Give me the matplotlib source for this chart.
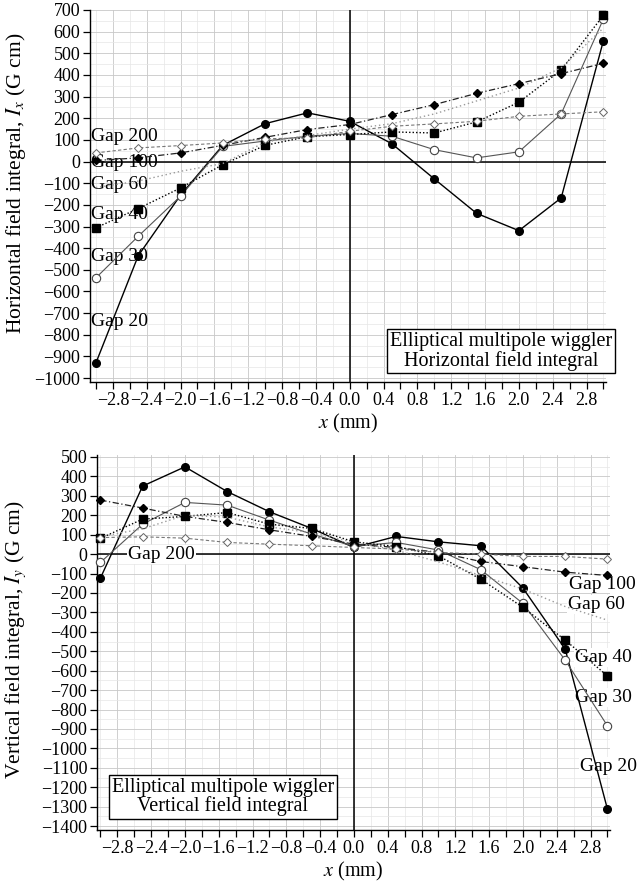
import matplotlib
matplotlib.use("Agg")
import matplotlib.pyplot as plt
from matplotlib.ticker import MultipleLocator, FuncFormatter

plt.rcParams['font.family'] = ['Liberation Serif', 'DejaVu Serif']
plt.rcParams['mathtext.fontset'] = 'stix'

# x positions of the measurements (mm)
x_pos = [-3.0, -2.5, -2.0, -1.5, -1.0, -0.5, 0.0, 0.5, 1.0, 1.5, 2.0, 2.5, 3.0]

# horizontal field integral Ix (G cm)
ix_gap20 = [-930, -435, -155, 75, 175, 225, 186, 82, -80, -239, -319, -168, 559]
ix_gap30 = [-537, -345, -160, 70, 95, 117, 130, 117, 55, 17, 45, 220, 659]
ix_gap40 = [-306, -217, -122, -14, 75, 115, 125, 137, 132, 183, 274, 422, 676]
ix_gap60 = [-120, -90, -45, -9, 90, 120, 150, 175, 220, 280, 340, 433, 617]
ix_gap100 = [5, 17, 40, 75, 112, 148, 171, 217, 263, 315, 360, 406, 454]
ix_gap200 = [40, 63, 74, 86, 105, 110, 140, 163, 174, 186, 209, 220, 230]

# vertical field integral Iy (G cm)
iy_gap20 = [-124, 350, 449, 322, 218, 132, 34, 91, 63, 43, -175, -489, -1313]
iy_gap30 = [-43, 154, 266, 252, 175, 103, 40, 60, 21, -80, -254, -546, -884]
iy_gap40 = [81, 180, 194, 214, 154, 132, 63, 39, -9, -129, -274, -443, -627]
iy_gap60 = [90, 130, 200, 190, 140, 110, 60, 20, -40, -110, -180, -270, -340]
iy_gap100 = [278, 237, 194, 163, 125, 91, 51, 34, 9, -38, -65, -93, -110]
iy_gap200 = [85, 89, 82, 60, 51, 43, 34, 26, 9, 0, -12, -12, -26]

gap_names = ["Gap 20", "Gap 30", "Gap 40", "Gap 60", "Gap 100", "Gap 200"]

styles = {
    "Gap 20": dict(color="black", ls="-", lw=1.0, marker="o", ms=5.5, mfc="black", mec="black"),
    "Gap 30": dict(color="#555555", ls="-", lw=0.8, marker="o", ms=6, mfc="white", mec="#444444", mew=0.8),
    "Gap 40": dict(color="black", ls=(0, (1, 1.5)), lw=1.0, marker="s", ms=5.5, mfc="black", mec="black"),
    "Gap 60": dict(color="#9a9a9a", ls=(0, (1, 2)), lw=1.0, marker=None),
    "Gap 100": dict(color="#222222", ls=(0, (5, 2, 1, 2)), lw=0.9, marker="D", ms=4, mfc="black", mec="black"),
    "Gap 200": dict(color="#777777", ls=(0, (3, 2)), lw=0.8, marker="D", ms=4, mfc="white", mec="#666666", mew=0.7),
}


def fmt_minus(v, pos, nd):
    s = f"{v:.{nd}f}"
    if s.startswith("-"):
        s = "\u2212" + s[1:]
    if s in ("\u22120", "\u22120.0"):
        s = s[1:]
    return s


def style_axes(ax, ylo, yhi, xlo, xhi):
    ax.set_xlim(xlo, xhi)
    ax.set_ylim(ylo, yhi)
    for side in ("top", "right"):
        ax.spines[side].set_visible(False)
    ax.spines["left"].set_linewidth(1.0)
    ax.spines["bottom"].set_linewidth(1.0)
    ax.xaxis.set_major_locator(MultipleLocator(0.4))
    ax.xaxis.set_minor_locator(MultipleLocator(0.2))
    ax.yaxis.set_major_locator(MultipleLocator(100))
    ax.yaxis.set_minor_locator(MultipleLocator(50))
    ax.xaxis.set_major_formatter(FuncFormatter(lambda v, p: fmt_minus(v, p, 1)))
    ax.yaxis.set_major_formatter(FuncFormatter(lambda v, p: fmt_minus(v, p, 0)))
    ax.tick_params(which="both", direction="out", length=5, width=0.9, labelsize=13, pad=2)
    ax.tick_params(axis="y", which="minor", length=0)
    ax.grid(which="major", color="#c8c8c8", lw=0.6)
    ax.grid(which="minor", color="#e6e6e6", lw=0.5)
    ax.set_axisbelow(True)
    ax.axhline(0, color="black", lw=1.1, zorder=1.5)
    ax.axvline(0, color="black", lw=1.1, zorder=1.5)


fig = plt.figure(figsize=(6.4, 8.9), dpi=100)
W, H = 640.0, 890.0

# ---- top panel: horizontal field integral
ax1 = fig.add_axes([90 / W, 1 - 382 / H, 516 / W, 372 / H])
style_axes(ax1, -1018, 700, -3.07, 3.03)
top_data = [ix_gap20, ix_gap30, ix_gap40, ix_gap60, ix_gap100, ix_gap200]
for name, vals in zip(gap_names, top_data):
    ax1.plot(x_pos, vals, zorder=3, clip_on=False, **styles[name])

top_labels = {"Gap 200": 115, "Gap 100": -5, "Gap 60": -106,
              "Gap 40": -245, "Gap 30": -439, "Gap 20": -739}
for name, yv in top_labels.items():
    ax1.text(-3.06, yv, name, fontsize=14, ha="left", va="center", zorder=2)

ax1.text(0.796, 0.083, "Elliptical multipole wiggler\nHorizontal field integral",
         transform=ax1.transAxes, ha="center", va="center", fontsize=14.5,
         linespacing=1.0, zorder=4,
         bbox=dict(boxstyle="square,pad=0.14", fc="white", ec="black", lw=1.0))
ax1.set_ylabel("Horizontal field integral, $I_x$ (G cm)", fontsize=15.5)
ax1.yaxis.set_label_coords(-0.12, 0.535)
ax1.set_xlabel("$x$ (mm)", fontsize=14.5, labelpad=2)

# ---- bottom panel: vertical field integral
ax2 = fig.add_axes([97 / W, 1 - 830 / H, 513 / W, 375 / H])
style_axes(ax2, -1420, 510, -3.04, 3.03)
bot_data = [iy_gap20, iy_gap30, iy_gap40, iy_gap60, iy_gap100, iy_gap200]
for name, vals in zip(gap_names, bot_data):
    ax2.plot(x_pos, vals, zorder=3, clip_on=False, **styles[name])

ax2.text(-2.67, 0, "Gap 200", fontsize=14, ha="left", va="center", zorder=2.5,
         bbox=dict(boxstyle="square,pad=0.05", fc="white", ec="none"))
bot_labels = {"Gap 100": (2.55, -154), "Gap 60": (2.53, -257), "Gap 40": (2.61, -530),
              "Gap 30": (2.61, -736), "Gap 20": (2.68, -1092)}
for name, (xv, yv) in bot_labels.items():
    ax2.text(xv, yv, name, fontsize=14, ha="left", va="center", zorder=2.5,
             clip_on=False, bbox=dict(boxstyle="square,pad=0.05", fc="white", ec="none"))

ax2.text(0.245, 0.088, "Elliptical multipole wiggler\nVertical field integral",
         transform=ax2.transAxes, ha="center", va="center", fontsize=14.5,
         linespacing=1.0, zorder=4,
         bbox=dict(boxstyle="square,pad=0.14", fc="white", ec="black", lw=1.0))
ax2.set_ylabel("Vertical field integral, $I_y$ (G cm)", fontsize=15.5)
ax2.yaxis.set_label_coords(-0.134, 0.507)
ax2.set_xlabel("$x$ (mm)", fontsize=14.5, labelpad=2)

fig.savefig("out.png", dpi=100)
